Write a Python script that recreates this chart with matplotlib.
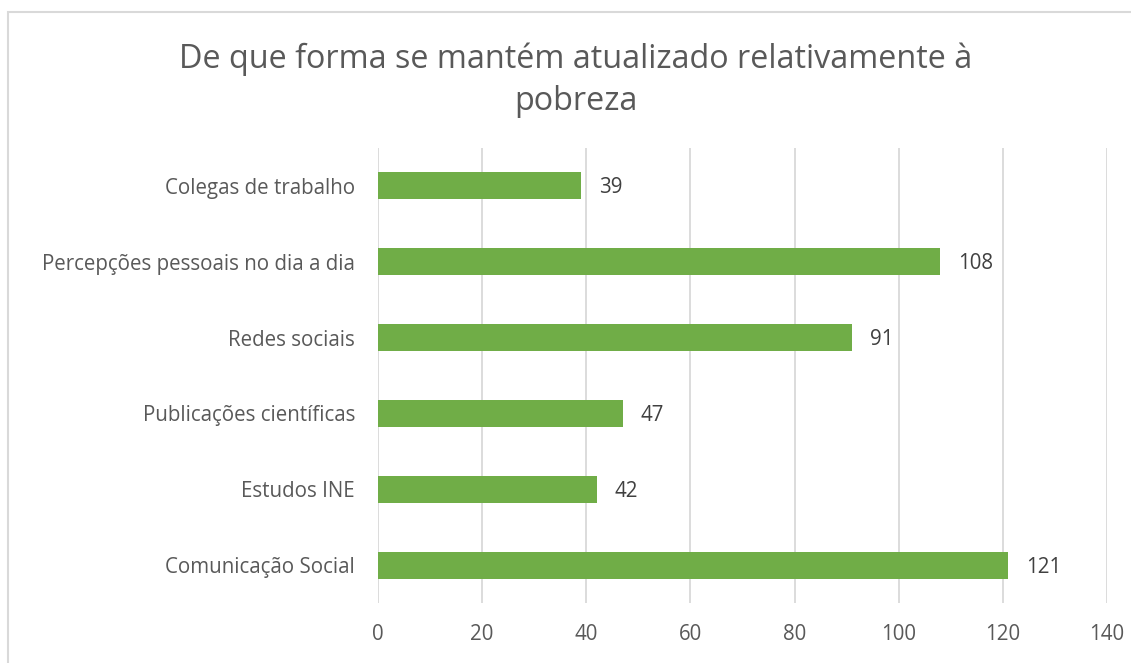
import matplotlib
matplotlib.use("Agg")
import matplotlib.pyplot as plt
from matplotlib.patches import Rectangle

categories = ["Comunicação Social", "Estudos INE", "Publicações científicas",
              "Redes sociais", "Percepções pessoais no dia a dia", "Colegas de trabalho"]
values = [121, 42, 47, 91, 108, 39]
xticks = [0, 20, 40, 60, 80, 100, 120, 140]

title = "De que forma se mantém atualizado relativamente à\npobreza"

W, H = 1131, 663
plt.rcParams["font.family"] = ["Open Sans", "DejaVu Sans"]
text_color = "#595959"
grid_color = "#d9d9d9"
bar_color = "#70ad47"

fig = plt.figure(figsize=(W / 100, H / 100), dpi=100)
fig.patch.set_facecolor("white")

# chart frame
fig.patches.append(Rectangle((8 / W, -0.2), 1.2, 1.2 - 12 / H, transform=fig.transFigure,
                             fill=False, edgecolor=grid_color, linewidth=1.5, zorder=0))

ax = fig.add_axes([378 / W, 1 - 603 / H, (1107 - 378) / W, (603 - 148) / H])
y = range(len(categories))
ax.barh(y, values, height=0.355, color=bar_color, zorder=3)
ax.set_xlim(0, 140)
ax.set_ylim(-0.5, len(categories) - 0.5)
ax.set_xticks(xticks)
ax.set_yticks(list(y))
ax.set_yticklabels(categories)
ax.grid(axis="x", color=grid_color, linewidth=1.3, zorder=0)
for s in ax.spines.values():
    s.set_visible(False)
ax.tick_params(axis="both", length=0, labelsize=14.8, colors=text_color)
ax.tick_params(axis="x", pad=15)
ax.tick_params(axis="y", pad=16.5)

for yi, v in zip(y, values):
    ax.annotate(str(v), (v, yi), xytext=(18, -2), textcoords="offset pixels",
                ha="left", va="center", fontsize=14.8, color="#404040")

fig.text(576 / W, 1 - 80 / H, title, ha="center", va="center", fontsize=23.3,
         color=text_color, linespacing=1.35)

fig.savefig("out.png", dpi=100)
